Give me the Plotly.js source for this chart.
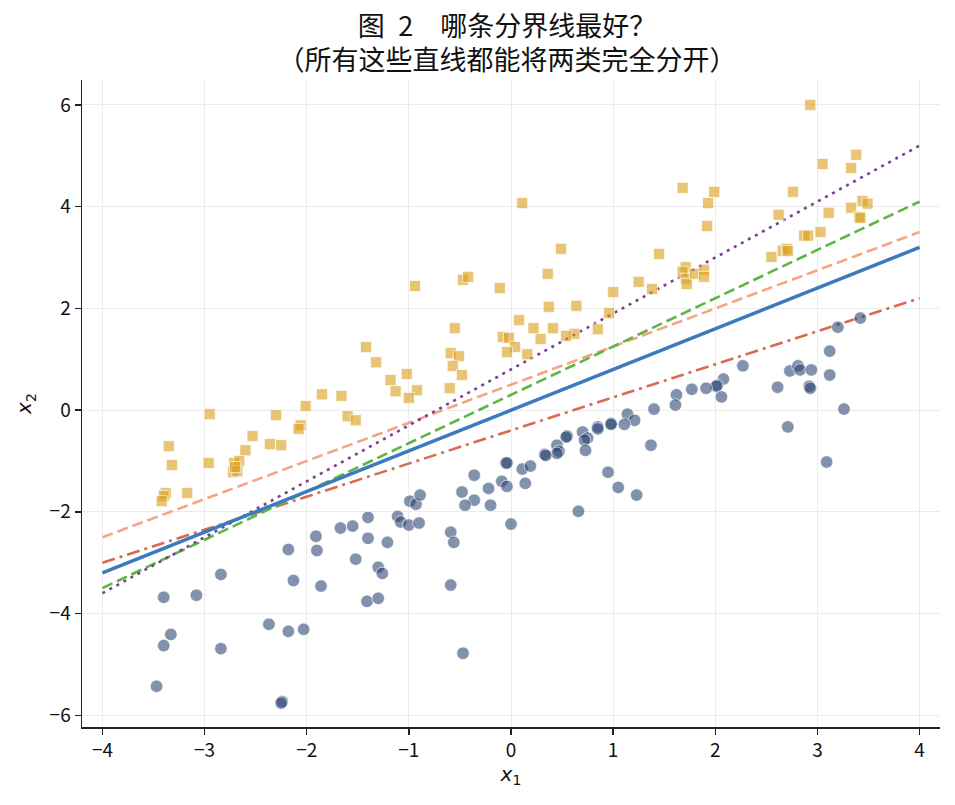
<!DOCTYPE html>
<html>
<head>
<meta charset="utf-8">
<script src="https://cdn.plot.ly/plotly-3.0.1.min.js"></script>
<style>
html,body{margin:0;padding:0;background:#fff;}
#chart{width:955px;height:805px;}
#chart text{text-spacing-trim:space-all;}
</style>
</head>
<body>
<div id="chart"></div>
<script>
// Class +1 (squares)
const posX = [-1.85,-1.66,-2.01,-1.60,-1.52,-2.95,-2.30,-2.06,-2.08,-2.53,-2.36,-2.25,-2.60,-3.35,-3.32,-2.96,-2.71,-2.66,-2.72,-2.68,-2.70,-3.17,-3.38,-3.40,-3.42,
  0.49,0.36,-0.94,-0.47,-0.42,-0.11,1.00,0.37,0.64,0.96,0.08,-0.55,0.22,0.41,0.85,0.62,0.54,-0.08,-0.02,0.29,0.04,-0.04,0.16,-1.42,-0.59,-0.51,-1.32,-0.57,-1.02,-1.18,-0.48,-1.13,-0.92,-1.00,-0.60,
  0.11,
  2.93,3.38,3.05,3.33,1.68,1.99,1.93,2.76,3.44,3.49,3.33,3.11,3.41,3.42,2.62,1.92,2.87,2.91,3.03,1.45,2.55,2.66,2.70,2.71,1.71,1.68,1.71,1.72,1.80,1.89,1.89,1.25,1.38];
const posY = [0.31,0.28,0.08,-0.12,-0.20,-0.08,-0.10,-0.30,-0.37,-0.51,-0.67,-0.69,-0.79,-0.71,-1.08,-1.04,-1.04,-1.00,-1.22,-1.20,-1.12,-1.63,-1.63,-1.69,-1.79,
  3.17,2.68,2.44,2.56,2.62,2.40,2.32,2.03,2.05,1.91,1.77,1.61,1.61,1.61,1.59,1.50,1.46,1.44,1.42,1.40,1.24,1.14,1.10,1.24,1.12,1.06,0.94,0.87,0.71,0.59,0.69,0.37,0.39,0.24,0.43,
  4.07,
  6.00,5.02,4.84,4.76,4.37,4.29,4.07,4.29,4.11,4.06,3.98,3.88,3.80,3.78,3.84,3.62,3.43,3.43,3.50,3.07,3.01,3.13,3.17,3.13,2.81,2.72,2.58,2.48,2.68,2.76,2.62,2.52,2.38];

// Class -1 (circles)
const negX = [-1.67,-1.55,-1.91,-1.40,-2.18,-1.90,-1.52,-2.84,-2.13,-1.86,-1.41,-3.40,-3.08,-2.37,-2.18,-2.03,-3.33,-3.40,-2.84,-3.47,-2.24,-2.25,
  0.98,0.98,0.85,0.85,0.70,0.75,0.72,0.73,0.55,0.54,0.45,0.47,0.45,0.33,0.34,-0.05,-0.04,0.11,0.19,0.95,1.05,-0.36,-0.09,-0.04,0.14,-0.22,-0.48,-0.36,-0.45,-0.20,-0.99,-0.93,-0.89,0.66,-1.40,-1.11,-1.08,-1.00,-0.90,0.00,-0.59,-0.56,-1.21,-1.30,-1.26,-0.59,-1.30,-0.47,
  3.20,3.42,3.12,3.12,2.27,2.73,2.81,2.83,2.94,2.61,2.92,2.93,3.26,2.71,3.09,2.08,2.02,2.01,2.06,1.91,1.77,1.62,1.61,1.40,1.14,1.21,1.11,1.37,1.23];
const negY = [-2.32,-2.28,-2.48,-2.52,-2.74,-2.76,-2.93,-3.23,-3.35,-3.46,-3.76,-3.68,-3.64,-4.21,-4.35,-4.31,-4.41,-4.63,-4.69,-5.43,-5.73,-5.76,
  -0.26,-0.28,-0.33,-0.37,-0.43,-0.55,-0.59,-0.79,-0.51,-0.53,-0.69,-0.81,-0.85,-0.87,-0.89,-1.04,-1.04,-1.16,-1.10,-1.22,-1.52,-1.28,-1.40,-1.50,-1.44,-1.54,-1.61,-1.77,-1.87,-1.87,-1.79,-1.85,-1.67,-1.99,-2.11,-2.09,-2.20,-2.26,-2.22,-2.24,-2.40,-2.60,-2.60,-3.09,-3.21,-3.44,-3.70,-4.78,
  1.63,1.81,1.16,0.69,0.87,0.77,0.87,0.79,0.79,0.45,0.47,0.43,0.02,-0.33,-1.02,0.61,0.49,0.47,0.26,0.43,0.41,0.30,0.10,0.02,-0.08,-0.20,-0.28,-0.69,-1.67];

// Candidate separating lines (endpoints)
const lineX = [-4, 4];
const lineBlue = [-3.2, 3.2];
const lineSalmon = [-2.5, 3.5];
const lineGreen = [-3.5, 4.1];
const linePurple = [-3.6, 5.2];
const lineRed = [-3.0, 2.2];

const xTicks = [-4,-3,-2,-1,0,1,2,3,4];
const yTicks = [-6,-4,-2,0,2,4,6];

const titleLine1 = '图\u20022\u2002\u2002哪条分界线最好？';
const titleLine2 = '\u2009（所有这些直线都能将两类完全分开）\u2009';

const traces = [
  {x: lineX, y: lineRed, mode:'lines', line:{color:'#d9694f', width:2.6, dash:'13px,5px,3px,5px'}, hoverinfo:'skip'},
  {x: lineX, y: lineSalmon, mode:'lines', line:{color:'#f4a582', width:2.6, dash:'11px,5px'}, hoverinfo:'skip'},
  {x: lineX, y: lineGreen, mode:'lines', line:{color:'#5fb544', width:2.6, dash:'11px,5px'}, hoverinfo:'skip'},
  {x: lineX, y: linePurple, mode:'lines', line:{color:'#7d3f95', width:2.6, dash:'3px,5px'}, hoverinfo:'skip'},
  {x: lineX, y: lineBlue, mode:'lines', line:{color:'#3b7abd', width:3.5}, hoverinfo:'skip'},
  {x: negX, y: negY, mode:'markers', marker:{symbol:'circle', size:12.5, color:'rgba(40,66,112,0.58)', line:{color:'rgba(255,255,255,0.8)', width:0.8}}},
  {x: posX, y: posY, mode:'markers', marker:{symbol:'square', size:11, color:'rgba(218,160,30,0.62)', line:{color:'rgba(255,255,255,0.8)', width:0.8}}}
];

const axisFont = {family:'"Noto Sans CJK SC", "DejaVu Sans", sans-serif', size:19, color:'#111'};
const titleFont = {family:'"Noto Sans CJK SC", sans-serif', size:27, color:'#111'};

const layout = {
  width:955, height:805,
  margin:{l:82, r:15, t:80, b:78},
  paper_bgcolor:'#fff', plot_bgcolor:'#fff',
  showlegend:false,
  title:{
    text:titleLine1, font:titleFont,
    xref:'container', yref:'container', x:0.531, xanchor:'center', y:0.967, yanchor:'middle'
  },
  annotations:[{
    text:titleLine2, font:titleFont, showarrow:false,
    xref:'paper', yref:'paper', x:0.495, xanchor:'center', y:1.033, yanchor:'middle'
  }],
  xaxis:{
    range:[-4.2,4.2], tickvals:xTicks, ticktext:xTicks.map(v=>v<0?'\u2212'+Math.abs(v):String(v)),
    showgrid:true, gridcolor:'#ebebeb', gridwidth:1, zeroline:false,
    showline:true, linecolor:'#222', linewidth:1.5, ticks:'outside', ticklen:6, tickwidth:1.5, tickcolor:'#222',
    tickfont:axisFont, mirror:false,
    title:{text:'<i>x</i><sub>1</sub>', font:{family:'"DejaVu Sans", sans-serif', size:20, color:'#111'}, standoff:4}
  },
  yaxis:{
    range:[-6.23,6.49], tickvals:yTicks, ticktext:yTicks.map(v=>v<0?'\u2212'+Math.abs(v):String(v)),
    showgrid:true, gridcolor:'#ebebeb', gridwidth:1, zeroline:false,
    showline:true, linecolor:'#222', linewidth:1.5, ticks:'outside', ticklen:6, tickwidth:1.5, tickcolor:'#222',
    tickfont:axisFont, mirror:false,
    title:{text:'<i>x</i><sub>2</sub>', font:{family:'"DejaVu Sans", sans-serif', size:20, color:'#111'}, standoff:12}
  }
};

Plotly.newPlot('chart', traces, layout, {displayModeBar:false, staticPlot:true});
</script>
</body>
</html>
